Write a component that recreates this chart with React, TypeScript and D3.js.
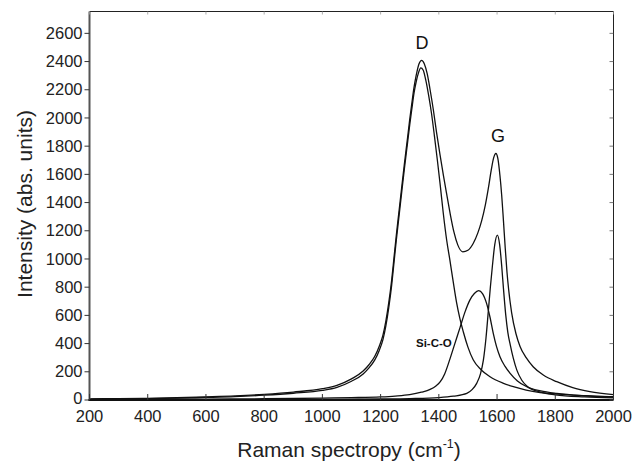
import React from "react";
import * as d3 from "d3";

type P = [number, number];

const xTicks = [200, 400, 600, 800, 1000, 1200, 1400, 1600, 1800, 2000];
const yTicks = [0, 200, 400, 600, 800, 1000, 1200, 1400, 1600, 1800, 2000, 2200, 2400, 2600];

const totalCurve: P[] = [
  [200, 8], [300, 10], [400, 12], [500, 16], [600, 22], [700, 29], [800, 40], [900, 56], [1000, 80],
  [1050, 104], [1100, 150], [1140, 205], [1160, 250], [1180, 310], [1195, 380], [1208, 460],
  [1218, 560], [1228, 690], [1238, 850], [1246, 1010], [1254, 1170], [1263, 1335], [1272, 1500],
  [1282, 1680], [1292, 1850], [1300, 1990], [1307, 2100], [1315, 2220], [1322, 2300], [1332, 2385],
  [1341, 2409], [1350, 2385], [1360, 2314], [1370, 2200], [1381, 2060], [1392, 1900], [1404, 1740],
  [1416, 1590], [1427, 1460], [1440, 1310], [1452, 1190], [1465, 1100], [1482, 1051], [1500, 1062],
  [1518, 1110], [1534, 1185], [1547, 1270], [1560, 1385], [1570, 1500], [1580, 1630], [1588, 1715],
  [1596, 1748], [1603, 1710], [1610, 1590], [1616, 1450], [1622, 1270], [1628, 1080], [1634, 910],
  [1640, 780], [1650, 620], [1665, 470], [1679, 380], [1700, 300], [1724, 236], [1760, 175],
  [1805, 130], [1860, 88], [1919, 60], [2000, 38],
];

const dBand: P[] = [
  [200, 6], [300, 8], [400, 10], [500, 13], [600, 18], [700, 24], [800, 34], [900, 48], [1000, 68],
  [1050, 90], [1100, 133], [1140, 185], [1160, 228], [1180, 285], [1195, 350], [1208, 428],
  [1218, 525], [1228, 655], [1238, 815], [1246, 975], [1254, 1135], [1263, 1300], [1272, 1465],
  [1282, 1645], [1292, 1815], [1300, 1950], [1307, 2060], [1315, 2180], [1322, 2255], [1330, 2320],
  [1338, 2355], [1346, 2340], [1355, 2270], [1365, 2160], [1375, 2030], [1385, 1870], [1395, 1700],
  [1405, 1520], [1415, 1330], [1427, 1133], [1438, 992], [1450, 830], [1461, 690], [1472, 580],
  [1484, 484], [1500, 375], [1518, 285], [1545, 215], [1576, 165], [1620, 120], [1656, 94],
  [1700, 70], [1748, 53], [1800, 43], [1862, 35], [1930, 28], [2000, 23],
];

const sicoBand: P[] = [
  [200, 3], [400, 4], [600, 6], [800, 9], [1000, 14], [1100, 17], [1200, 22], [1250, 28], [1300, 38],
  [1340, 55], [1370, 75], [1390, 100], [1405, 130], [1420, 185], [1438, 290], [1455, 400],
  [1473, 515], [1490, 625], [1507, 710], [1522, 755], [1537, 775], [1550, 755], [1564, 685],
  [1576, 585], [1587, 472], [1598, 380], [1610, 307], [1627, 240], [1645, 189], [1670, 135],
  [1702, 94], [1750, 65], [1805, 47], [1900, 30], [2000, 20],
];

const gBand: P[] = [
  [200, 1], [600, 2], [1000, 4], [1200, 7], [1300, 10], [1400, 17], [1450, 27], [1496, 47],
  [1515, 75], [1530, 118], [1543, 185], [1553, 283], [1562, 440], [1570, 630], [1577, 800],
  [1584, 950], [1592, 1100], [1601, 1169], [1609, 1100], [1616, 950], [1622, 790], [1630, 600],
  [1637, 480], [1645, 395], [1656, 295], [1668, 212], [1685, 140], [1702, 100], [1750, 55],
  [1800, 37], [1900, 22], [2000, 15],
];

const curves = [totalCurve, dBand, sicoBand, gBand];

const peakLabels: { text: string; x: number; y: number; bold: boolean; size: number }[] = [
  { text: "D", x: 1342, y: 2490, bold: false, size: 18 },
  { text: "G", x: 1603, y: 1827, bold: false, size: 18 },
  { text: "Si-C-O", x: 1383, y: 375, bold: true, size: 11.5 },
];

const W = 634;
const H = 462;
const left = 89.5;
const right = 613.5;
const top = 11.5;
const bottom = 400;
const FONT = "'Liberation Sans', Arial, Helvetica, sans-serif";

export default function App() {
  const x = d3.scaleLinear().domain([200, 2000]).range([left, right]);
  const y = d3.scaleLinear().domain([0, 2755]).range([bottom, top]);
  const line = d3
    .line<P>()
    .x((d) => x(d[0]))
    .y((d) => y(d[1]))
    .curve(d3.curveMonotoneX);

  return (
    <svg
      width={W}
      height={H}
      style={{ position: "absolute", left: 0, top: 0, background: "#fff" }}
      fontFamily={FONT}
    >
      <rect x={0} y={0} width={W} height={H} fill="#fff" />
      <defs>
        <clipPath id="plotclip">
          <rect x={left} y={top} width={right - left} height={bottom - top} />
        </clipPath>
      </defs>

      {/* curves */}
      <g clipPath="url(#plotclip)">
        {curves.map((c, i) => (
          <path key={i} d={line(c) || ""} fill="none" stroke="#111" strokeWidth={1.3} />
        ))}
      </g>

      {/* frame */}
      <line x1={left} x2={right} y1={top} y2={top} stroke="#222" strokeWidth={1} />
      <line x1={right} x2={right} y1={top} y2={bottom} stroke="#222" strokeWidth={1} />
      <line x1={left} x2={left} y1={top} y2={bottom + 1} stroke="#555" strokeWidth={2} />
      <line x1={left - 1} x2={right} y1={bottom} y2={bottom} stroke="#111" strokeWidth={2.2} />

      {/* y ticks */}
      {yTicks.map((t) => (
        <g key={"y" + t}>
          <line x1={left - 5} x2={left} y1={y(t)} y2={y(t)} stroke="#333" strokeWidth={1} />
          <line x1={right - 4} x2={right} y1={y(t)} y2={y(t)} stroke="#555" strokeWidth={0.8} />
          <text
            x={left - 7}
            y={t === 0 ? y(t) - 2 : y(t)}
            dy="0.34em"
            textAnchor="end"
            fontSize={16.5}
            fill="#222"
          >
            {t}
          </text>
        </g>
      ))}

      {/* x ticks */}
      {xTicks.map((t) => (
        <g key={"x" + t}>
          <line x1={x(t)} x2={x(t)} y1={bottom} y2={bottom - 6} stroke="#333" strokeWidth={1} />
          <line x1={x(t)} x2={x(t)} y1={top} y2={top + 3} stroke="#999" strokeWidth={0.8} />
          <text x={x(t)} y={bottom + 22} textAnchor="middle" fontSize={16.5} fill="#222">
            {t}
          </text>
        </g>
      ))}

      {/* peak labels */}
      {peakLabels.map((p) => (
        <text
          key={p.text}
          x={x(p.x)}
          y={y(p.y)}
          textAnchor="middle"
          fontSize={p.size}
          fontWeight={p.bold ? "bold" : "normal"}
          fill="#111"
        >
          {p.text}
        </text>
      ))}

      {/* axis titles */}
      <text x={349} y={457} textAnchor="middle" fontSize={21} fill="#222">
        Raman spectropy (cm
        <tspan fontSize={12.5} dy={-9}>
          -1
        </tspan>
        <tspan dy={9}>)</tspan>
      </text>
      <text
        transform={`translate(32, ${204}) rotate(-90)`}
        textAnchor="middle"
        fontSize={21}
        fill="#222"
      >
        Intensity (abs. units)
      </text>
    </svg>
  );
}
